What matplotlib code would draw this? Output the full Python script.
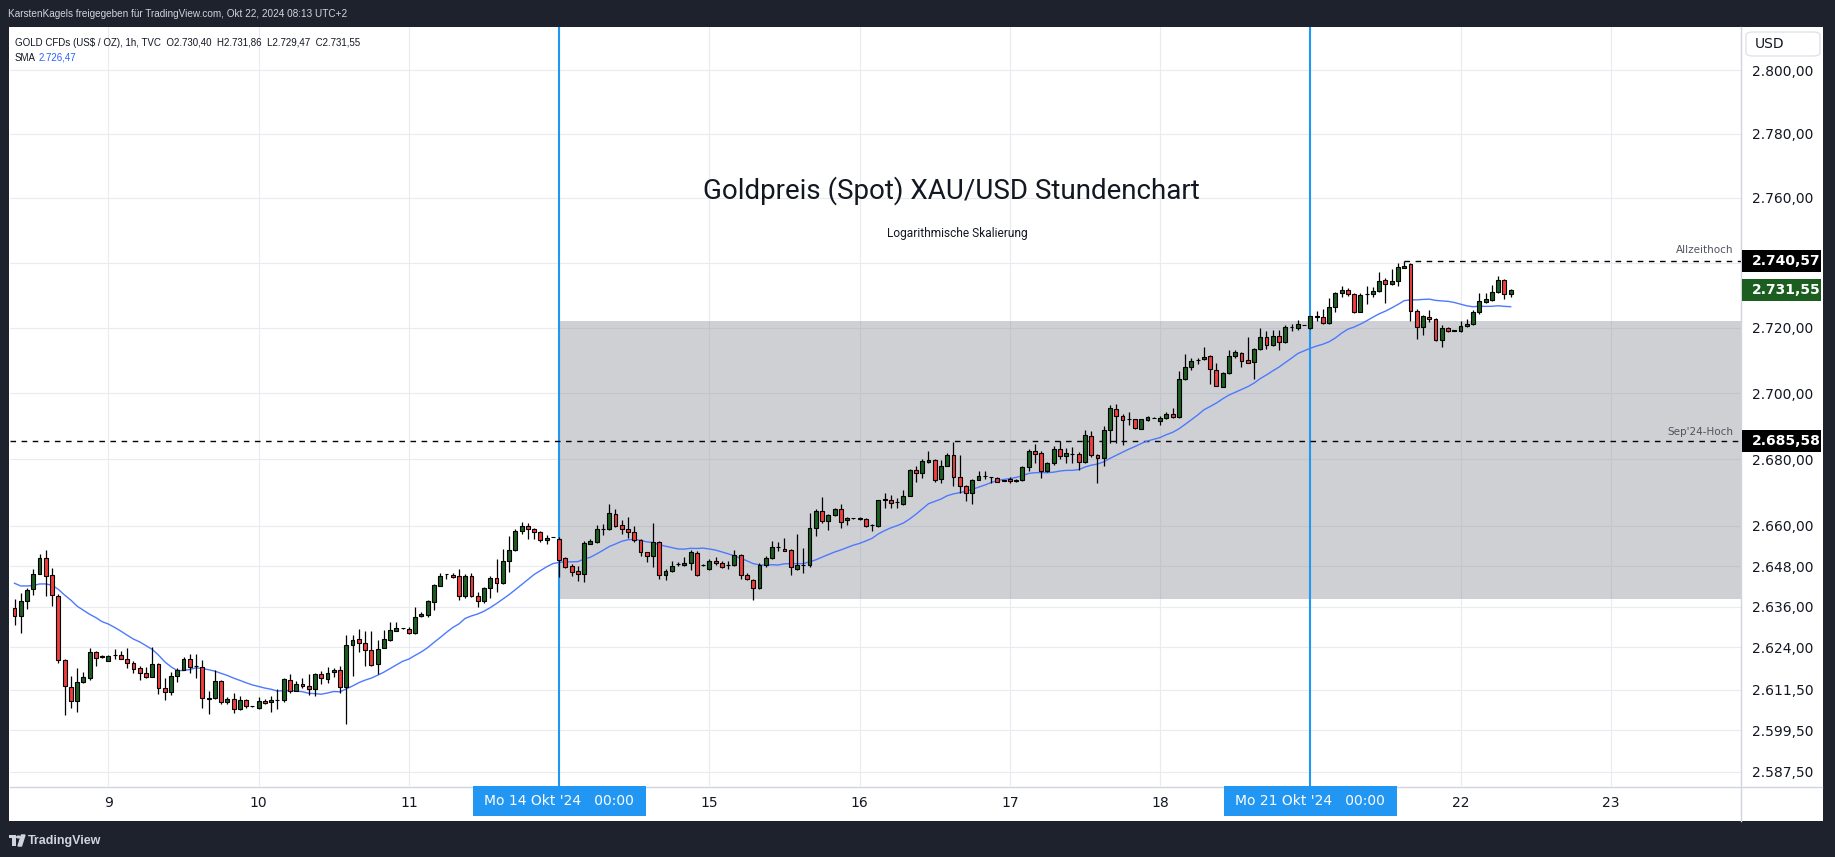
"""
Goldpreis (Spot) XAU/USD Stundenchart - TradingView style remake
"""

# Imports
import matplotlib
matplotlib.use('Agg')
import matplotlib.pyplot as plt
from matplotlib.patches import Rectangle, FancyBboxPatch, Circle, Polygon
from matplotlib.lines import Line2D
import numpy
import pandas

# Hourly candles (one entry per bar, 8 Oct 09:00 -> 22 Oct 08:00)
opens = [
    2635.7, 2633.3, 2637.5, 2641.1, 2645.8, 2650.3, 2645.5, 2639.0, 2620.3, 2612.3, 2608.1, 2613.7,
    2614.9, 2622.4, 2621.3, 2620.0, 2621.6, 2621.6, 2620.5, 2619.4, 2617.9, 2616.4, 2615.2, 2619.1,
    2612.0, 2610.8, 2615.4, 2617.3, 2620.6, 2618.5, 2618.2, 2609.0, 2609.0, 2614.0, 2607.8, 2608.7,
    2605.7, 2608.4, 2606.6, 2606.0, 2608.1, 2607.7, 2608.4, 2608.4, 2614.3, 2611.1, 2613.2, 2612.6,
    2611.7, 2616.1, 2614.6, 2616.7, 2617.3, 2612.2, 2624.7, 2626.4, 2625.2, 2623.2, 2619.0, 2623.6,
    2626.2, 2628.8, 2629.5, 2629.3, 2628.1, 2633.1, 2633.6, 2637.4, 2642.2, 2645.6, 2645.5, 2645.1,
    2639.2, 2645.1, 2639.0, 2637.7, 2641.4, 2644.6, 2642.9, 2649.6, 2652.9, 2658.5, 2660.0, 2659.2,
    2658.3, 2655.8, 2656.7, 2656.2, 2650.3, 2647.9, 2646.5, 2645.8, 2654.7, 2655.2, 2659.0, 2659.0,
    2663.7, 2660.4, 2659.2, 2658.3, 2655.7, 2652.1, 2651.1, 2655.3, 2645.4, 2646.6, 2648.6, 2648.3,
    2649.0, 2652.0, 2648.3, 2647.2, 2649.5, 2649.0, 2648.2, 2648.2, 2651.4, 2645.4, 2643.9, 2641.5,
    2648.2, 2650.5, 2653.7, 2653.2, 2652.7, 2647.2, 2648.3, 2648.3, 2659.5, 2664.4, 2661.5, 2663.3,
    2665.0, 2661.7, 2662.3, 2662.5, 2662.0, 2660.2, 2660.0, 2667.9, 2667.9, 2667.2, 2666.6, 2669.1,
    2676.9, 2675.9, 2679.1, 2679.7, 2674.1, 2678.1, 2681.4, 2674.7, 2672.1, 2669.9, 2673.9, 2674.9,
    2674.6, 2674.4, 2673.6, 2674.1, 2673.6, 2673.7, 2677.7, 2682.6, 2681.9, 2676.4, 2678.8, 2683.2,
    2681.0, 2681.7, 2681.7, 2679.3, 2687.1, 2681.2, 2680.5, 2688.8, 2695.3, 2693.1, 2692.1, 2692.1,
    2689.3, 2691.9, 2692.6, 2691.6, 2692.4, 2693.7, 2692.8, 2704.4, 2708.1, 2710.1, 2710.3, 2711.3,
    2707.0, 2702.0, 2706.2, 2711.3, 2712.3, 2710.0, 2709.5, 2713.5, 2717.1, 2714.6, 2717.5, 2715.5,
    2720.2, 2719.8, 2720.8, 2719.9, 2723.4, 2723.2, 2721.4, 2726.3, 2730.6, 2731.6, 2730.4, 2724.7,
    2730.4, 2730.4, 2731.3, 2734.7, 2733.4, 2734.4, 2738.3, 2739.6, 2725.2, 2720.2, 2723.2, 2722.7,
    2716.2, 2719.9, 2719.1, 2719.1, 2720.4, 2721.2, 2724.7, 2727.9, 2728.6, 2730.9, 2734.7, 2730.40,
]
highs = [
    2638.2, 2639.9, 2641.4, 2647.1, 2651.6, 2652.8, 2647.4, 2639.6, 2620.6, 2615.6, 2617.7, 2616.6,
    2623.7, 2622.9, 2621.6, 2621.6, 2623.3, 2622.8, 2623.7, 2619.8, 2618.3, 2618.0, 2624.0, 2619.2,
    2615.0, 2616.6, 2617.9, 2621.1, 2621.9, 2621.9, 2620.1, 2611.2, 2617.3, 2614.3, 2609.3, 2610.6,
    2609.7, 2608.7, 2606.8, 2609.3, 2608.8, 2609.5, 2611.7, 2615.0, 2616.2, 2614.0, 2614.9, 2616.1,
    2616.4, 2616.8, 2618.0, 2617.9, 2618.3, 2627.5, 2627.7, 2629.4, 2628.6, 2628.8, 2626.0, 2629.0,
    2631.3, 2631.3, 2629.6, 2629.8, 2635.8, 2634.5, 2638.0, 2642.7, 2646.1, 2645.8, 2646.1, 2647.1,
    2645.6, 2646.1, 2640.2, 2641.7, 2645.0, 2650.1, 2653.2, 2657.0, 2659.0, 2661.2, 2661.0, 2659.5,
    2658.6, 2657.2, 2656.8, 2656.8, 2650.6, 2648.6, 2647.9, 2655.5, 2656.0, 2660.2, 2660.5, 2666.7,
    2665.2, 2661.7, 2662.7, 2660.0, 2656.2, 2652.3, 2661.0, 2655.5, 2647.1, 2649.6, 2649.3, 2650.7,
    2652.8, 2652.4, 2648.5, 2650.0, 2650.7, 2649.5, 2649.5, 2652.7, 2651.6, 2646.0, 2644.2, 2649.0,
    2651.0, 2655.5, 2655.2, 2656.5, 2653.0, 2657.5, 2653.5, 2663.9, 2665.0, 2668.7, 2663.7, 2665.5,
    2666.5, 2662.7, 2662.4, 2662.8, 2662.4, 2660.5, 2667.9, 2669.9, 2669.4, 2668.4, 2670.7, 2677.1,
    2678.1, 2680.1, 2682.6, 2680.1, 2679.9, 2681.9, 2685.2, 2681.4, 2672.3, 2674.1, 2676.4, 2676.4,
    2674.7, 2674.7, 2673.7, 2674.7, 2674.0, 2677.9, 2683.1, 2684.7, 2682.4, 2679.2, 2684.0, 2685.6,
    2683.5, 2683.8, 2682.2, 2688.8, 2688.6, 2681.5, 2690.1, 2696.3, 2696.6, 2693.8, 2694.4, 2692.3,
    2692.3, 2693.1, 2692.7, 2693.1, 2694.3, 2695.6, 2706.7, 2712.1, 2710.8, 2710.8, 2714.1, 2711.8,
    2709.1, 2706.4, 2713.3, 2713.3, 2712.7, 2717.1, 2713.8, 2719.9, 2718.9, 2719.2, 2719.2, 2720.9,
    2721.0, 2722.4, 2720.9, 2723.7, 2725.2, 2725.8, 2729.1, 2731.1, 2732.7, 2732.2, 2730.6, 2730.6,
    2732.7, 2732.4, 2737.0, 2735.2, 2738.0, 2740.0, 2740.57, 2739.8, 2725.7, 2724.0, 2725.5, 2722.9,
    2720.9, 2720.2, 2719.2, 2721.9, 2722.6, 2725.3, 2730.6, 2730.6, 2733.2, 2736.0, 2734.9, 2731.86,
]
lows = [
    2630.6, 2628.2, 2635.4, 2639.5, 2645.6, 2639.2, 2636.2, 2619.4, 2603.9, 2606.0, 2604.8, 2613.5,
    2614.3, 2618.4, 2620.9, 2620.0, 2620.6, 2620.5, 2617.9, 2616.4, 2614.2, 2614.8, 2615.1, 2610.3,
    2608.3, 2609.8, 2613.8, 2617.1, 2616.4, 2614.9, 2606.2, 2604.4, 2608.8, 2607.1, 2607.1, 2604.5,
    2605.5, 2606.2, 2606.4, 2605.8, 2607.2, 2605.0, 2605.8, 2607.7, 2610.6, 2611.0, 2612.0, 2609.9,
    2609.5, 2613.1, 2613.5, 2615.1, 2610.6, 2601.5, 2615.5, 2622.6, 2618.4, 2618.3, 2616.2, 2623.6,
    2625.9, 2628.8, 2629.4, 2627.9, 2627.9, 2632.8, 2632.8, 2635.1, 2642.0, 2644.2, 2644.4, 2638.0,
    2638.4, 2638.7, 2636.0, 2636.9, 2638.5, 2640.2, 2642.6, 2646.3, 2652.6, 2657.5, 2656.0, 2656.0,
    2655.2, 2654.5, 2656.6, 2644.9, 2647.3, 2645.1, 2643.5, 2643.2, 2654.5, 2655.0, 2657.2, 2658.7,
    2659.7, 2657.5, 2656.5, 2655.2, 2651.1, 2649.1, 2647.6, 2644.2, 2644.0, 2646.3, 2647.9, 2648.0,
    2646.8, 2645.0, 2648.1, 2646.8, 2648.2, 2647.5, 2647.0, 2648.0, 2644.2, 2643.8, 2637.8, 2641.2,
    2647.8, 2650.2, 2652.5, 2652.5, 2645.3, 2646.8, 2646.0, 2647.7, 2657.0, 2661.0, 2658.8, 2663.0,
    2659.5, 2660.2, 2662.2, 2661.7, 2659.8, 2658.5, 2659.8, 2665.5, 2665.5, 2665.5, 2666.4, 2668.9,
    2673.1, 2674.4, 2678.9, 2673.1, 2672.9, 2677.9, 2672.1, 2669.9, 2667.4, 2666.6, 2673.7, 2674.1,
    2672.9, 2673.1, 2673.5, 2672.9, 2673.2, 2673.4, 2676.4, 2678.9, 2674.4, 2676.2, 2678.4, 2680.1,
    2679.0, 2679.0, 2676.8, 2679.0, 2680.8, 2672.9, 2678.0, 2684.8, 2684.8, 2684.2, 2690.3, 2689.1,
    2689.1, 2691.6, 2692.5, 2690.3, 2692.1, 2692.6, 2692.6, 2704.0, 2707.0, 2708.8, 2710.1, 2702.7,
    2702.2, 2701.8, 2706.0, 2710.8, 2708.1, 2709.1, 2704.4, 2713.3, 2713.5, 2714.3, 2713.3, 2715.3,
    2719.1, 2719.2, 2720.7, 2719.6, 2721.9, 2721.2, 2721.2, 2724.7, 2729.4, 2729.8, 2724.5, 2724.7,
    2727.3, 2729.4, 2730.8, 2727.7, 2733.2, 2732.9, 2738.3, 2722.2, 2716.6, 2717.8, 2721.6, 2716.0,
    2714.2, 2718.8, 2719.0, 2718.8, 2720.2, 2720.7, 2724.3, 2727.7, 2728.3, 2730.6, 2728.9, 2729.47,
]
closes = [
    2633.3, 2637.5, 2640.9, 2645.8, 2650.3, 2645.2, 2639.3, 2620.3, 2612.4, 2608.2, 2613.7, 2615.2,
    2622.4, 2620.9, 2621.2, 2621.3, 2621.7, 2620.6, 2619.4, 2617.6, 2616.5, 2615.3, 2619.1, 2612.0,
    2610.8, 2615.5, 2617.3, 2620.6, 2618.2, 2618.5, 2609.0, 2608.6, 2614.0, 2607.8, 2608.8, 2605.7,
    2608.4, 2606.6, 2606.6, 2608.1, 2607.5, 2608.4, 2608.4, 2614.6, 2611.1, 2613.2, 2612.6, 2611.7,
    2616.1, 2614.9, 2616.4, 2617.3, 2612.2, 2624.7, 2626.2, 2625.2, 2623.2, 2618.6, 2623.4, 2626.4,
    2629.0, 2629.5, 2629.5, 2628.1, 2632.8, 2633.8, 2637.5, 2642.4, 2645.1, 2645.6, 2644.7, 2639.2,
    2645.1, 2639.0, 2637.7, 2641.4, 2644.6, 2642.9, 2649.4, 2652.9, 2658.5, 2660.0, 2659.2, 2658.3,
    2655.8, 2656.5, 2656.7, 2649.9, 2647.6, 2646.4, 2645.8, 2655.0, 2655.4, 2659.0, 2659.0, 2663.9,
    2660.0, 2659.2, 2658.3, 2655.7, 2652.1, 2651.1, 2655.3, 2645.4, 2646.6, 2648.1, 2648.6, 2649.0,
    2652.3, 2645.3, 2648.3, 2649.5, 2649.0, 2647.8, 2648.2, 2651.4, 2645.4, 2644.3, 2641.5, 2648.2,
    2650.5, 2653.8, 2653.7, 2652.5, 2647.7, 2648.2, 2648.3, 2659.5, 2664.4, 2661.5, 2663.3, 2665.0,
    2661.3, 2662.3, 2662.3, 2662.0, 2660.0, 2660.2, 2667.9, 2667.9, 2666.9, 2667.2, 2669.1, 2676.9,
    2675.9, 2679.6, 2679.9, 2673.9, 2678.1, 2681.4, 2674.7, 2672.1, 2669.9, 2673.9, 2675.1, 2674.9,
    2674.6, 2673.3, 2673.6, 2673.4, 2673.6, 2677.7, 2682.6, 2681.6, 2676.4, 2678.8, 2683.2, 2681.0,
    2681.8, 2681.7, 2679.3, 2687.4, 2681.2, 2680.5, 2688.8, 2695.6, 2693.1, 2691.9, 2692.1, 2689.4,
    2692.1, 2692.7, 2692.6, 2692.4, 2693.6, 2692.8, 2704.4, 2708.1, 2709.9, 2710.1, 2711.1, 2707.5,
    2702.2, 2706.2, 2711.3, 2712.6, 2709.8, 2709.3, 2713.5, 2717.1, 2714.6, 2717.5, 2715.5, 2720.2,
    2720.2, 2721.1, 2720.8, 2723.7, 2723.4, 2721.4, 2726.3, 2730.6, 2731.6, 2730.4, 2724.7, 2730.1,
    2730.4, 2731.3, 2734.2, 2733.5, 2734.4, 2738.6, 2739.0, 2725.0, 2720.2, 2723.7, 2722.6, 2716.2,
    2719.9, 2719.0, 2719.1, 2720.6, 2721.2, 2724.7, 2728.1, 2728.9, 2730.9, 2734.7, 2730.4, 2731.55,
]

# SMA(20) values of the first bars (older closes are not on the chart)
sma_head = [2642.9, 2642.1, 2642.1, 2642.2, 2642.7, 2642.7, 2642.3, 2641.1, 2639.4, 2637.9,
            2636.1, 2634.9, 2633.7, 2632.7, 2631.5, 2630.8, 2629.8, 2628.7, 2627.5]

# Axis info
day_index = [15, 39, 63, 87, 111, 135, 159, 183, 207, 231, 255]
day_labels = ['9', '10', '11', '', '15', '16', '17', '18', '', '22', '23']
marker_index = [87, 207]
marker_labels = ["Mo 14 Okt '24   00:00", "Mo 21 Okt '24   00:00"]
price_ticks = [2587.5, 2599.5, 2611.5, 2624, 2636, 2648, 2660, 2680, 2700, 2720, 2740, 2760, 2780, 2800]

# Levels and drawings
ath_price = 2740.57
ath_index = 222
sep_high = 2685.58
last_close = 2731.55
sma_last = 2726.47
zone_low = 2638.2
zone_high = 2722.1
zone_start = 87

# Colours
DARK = '#1e222d'
TEXT = '#131722'
GRID = '#e9ebf0'
UP = '#1b5e20'
DOWN = '#f23d3d'
BLUE = '#2196f3'
SMA_COLOR = '#4d79ff'

W, H = 1835, 857


def fx(x):
    return x / W


def fy(y):
    return 1 - y / H


def de(v):
    s = f"{v:,.2f}"
    return s.replace(',', 'X').replace('.', ',').replace('X', '.')


def fig_box(x0, y0, x1, y1, color, z=5, **kw):
    fig.add_artist(Rectangle((fx(x0), fy(y1)), fx(x1) - fx(x0), fy(y0) - fy(y1),
                             transform=fig.transFigure, facecolor=color,
                             edgecolor=kw.pop('edgecolor', 'none'), zorder=z, **kw))


plt.rcParams['font.family'] = ['DejaVu Sans']

fig = plt.figure(figsize=(W / 100, H / 100), dpi=100, facecolor=DARK)

# White panel
fig_box(9, 27, 1823, 821, 'white', z=-1)

# Main axes (plot area from x 10..1741, y 27..786 px)
ax = fig.add_axes([fx(10), fy(786), fx(1741) - fx(10), fy(27) - fy(786)])
ax.set_facecolor('white')
ax.set_yscale('log')
ax.set_xlim(-0.72, 275.8)
ax.set_ylim(2583.3, 2813.6)

ax.set_yticks(price_ticks, labels=[de(p) if p != 2740 else '' for p in price_ticks])
ax.minorticks_off()
ax.yaxis.tick_right()
ax.set_xticks(day_index, labels=day_labels)
ax.tick_params(axis='y', length=0, pad=8, labelsize=10, labelcolor=TEXT)
ax.tick_params(axis='x', length=0, pad=7.5, labelsize=10, labelcolor=TEXT)
ax.grid(True, color=GRID, linewidth=0.8)
ax.set_axisbelow(True)
for s in ax.spines.values():
    s.set_visible(False)

x = numpy.arange(len(closes))
o = numpy.array(opens)
c = numpy.array(closes)
h = numpy.array(highs)
l = numpy.array(lows)

# Zone rectangle
ax.add_patch(Rectangle((zone_start, zone_low), 300, zone_high - zone_low,
                       facecolor='#9598a1', alpha=0.45, edgecolor='none', zorder=1))

# Vertical markers
for m in marker_index:
    ax.axvline(m, color=BLUE, linewidth=1.5, zorder=2)

# Horizontal levels
ax.axhline(sep_high, color='black', linewidth=1.0, linestyle=(0, (4, 4)), zorder=2.5)
ax.hlines(ath_price, ath_index, 275.8, color='black', linewidth=1.0, linestyle=(0, (4, 4)), zorder=2.5)

# SMA 20
sma = pandas.Series(closes).rolling(20).mean().to_numpy()
sma[:len(sma_head)] = sma_head
ax.plot(x, sma, color=SMA_COLOR, linewidth=1.0, zorder=3)

# Candles
colors = numpy.where(c > o, UP, numpy.where(c < o, DOWN, 'black'))
ax.vlines(x, l, h, color='black', linewidth=0.9, zorder=4)
bottom = numpy.minimum(o, c)
height = numpy.maximum(numpy.abs(c - o), 0.05)
ax.bar(x, height, bottom=bottom, width=0.62, color=colors, edgecolor='black', linewidth=0.8, zorder=5)

# Level captions
fig.text(fx(1733), fy(250), 'Allzeithoch', ha='right', va='center', fontsize=7.5, color='#50535e')
fig.text(fx(1733), fy(432), "Sep'24-Hoch", ha='right', va='center', fontsize=7.5, color='#50535e')

# Title texts
fig.text(fx(951), fy(191), 'Goldpreis (Spot) XAU/USD Stundenchart', ha='center', va='center',
         fontsize=20, color=TEXT, family='Roboto')
fig.text(fx(957), fy(234), 'Logarithmische Skalierung', ha='center', va='center',
         fontsize=8.6, color=TEXT, family='Roboto')

# Price labels on the axis
def price_label(p, color, txt):
    y = H - ax.transData.transform((0, p))[1]
    fig_box(1742, y - 11, 1821, y + 11, color, z=6)
    fig.text(fx(1752), fy(y), txt, ha='left', va='center', fontsize=10, color='white',
             fontweight='bold', zorder=7)


price_label(ath_price, 'black', de(ath_price))
price_label(last_close, UP, de(last_close))
price_label(sep_high, 'black', de(sep_high))

# Date markers on the time axis
for m, lab in zip(marker_index, marker_labels):
    xm = fx(10) + (m + 0.72) / (275.8 + 0.72) * (fx(1741) - fx(10))
    xm_px = xm * W
    fig_box(xm_px - 86.5, 786, xm_px + 86.5, 816, BLUE, z=6)
    fig.text(xm, fy(801), lab, ha='center', va='center', fontsize=10, color='white', zorder=7)

# Separators
fig.add_artist(Line2D([fx(10), fx(1822)], [fy(786.5), fy(786.5)], transform=fig.transFigure,
                      color='#d1d4dc', linewidth=1, zorder=4))
fig.add_artist(Line2D([fx(1741), fx(1741)], [fy(27), fy(821)], transform=fig.transFigure,
                      color='#d1d4dc', linewidth=1, zorder=4))

# USD box
fig.add_artist(FancyBboxPatch((fx(1746), fy(56)), fx(1820) - fx(1746), fy(32) - fy(56),
                              boxstyle='round,pad=0,rounding_size=0.004', transform=fig.transFigure,
                              facecolor='white', edgecolor='#e0e3eb', linewidth=1, zorder=5))
fig.text(fx(1755), fy(44), 'USD', ha='left', va='center', fontsize=10, color=TEXT, zorder=6)

# Legend in the top left
fig.text(fx(15), fy(43), 'GOLD CFDs (US$ / OZ), 1h, TVC  O2.730,40  H2.731,86  L2.729,47  C2.731,55',
         ha='left', va='center', fontsize=7.05, color=TEXT, family='Liberation Sans')
fig.text(fx(15), fy(58), 'SMA', ha='left', va='center', fontsize=7.05, color=TEXT, family='Liberation Sans')
fig.text(fx(39), fy(58), de(sma_last), ha='left', va='center', fontsize=7.05, color='#2962ff',
         family='Liberation Sans')

# Header and footer
fig.text(fx(8), fy(14), 'KarstenKagels freigegeben für TradingView.com, Okt 22, 2024 08:13 UTC+2',
         ha='left', va='center', fontsize=7.2, color='#d1d4dc', family='Liberation Sans')
fig_box(9, 835, 16, 838, '#d1d4dc', z=6)
fig_box(12, 835, 15.5, 846, '#d1d4dc', z=6)
fig.add_artist(Circle((fx(18.5), fy(837)), 1.8 / W, transform=fig.transFigure, color='#d1d4dc', zorder=6))
fig.add_artist(Polygon([(fx(18), fy(846)), (fx(21.5), fy(835)), (fx(25), fy(835)), (fx(21.5), fy(846))],
                       transform=fig.transFigure, color='#d1d4dc', zorder=6))
fig.text(fx(28), fy(841), 'TradingView', ha='left', va='center', fontsize=9, color='#d1d4dc',
         fontweight='bold', family='Liberation Sans')

plt.savefig('out.png', dpi=100, facecolor=DARK)
plt.close()
